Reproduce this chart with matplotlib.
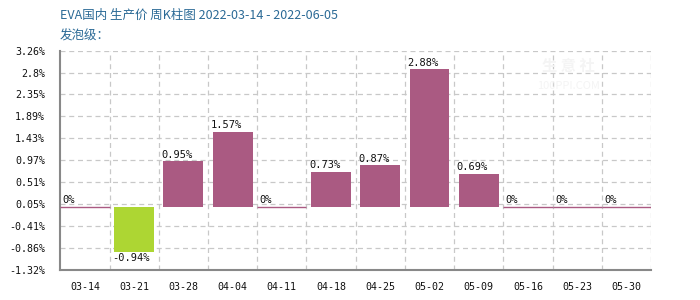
import matplotlib
matplotlib.use("Agg")
import matplotlib.pyplot as plt
import numpy as np

plt.rcParams['font.family'] = ['Noto Sans CJK SC', 'DejaVu Sans']

categories = ["03-14", "03-21", "03-28", "04-04", "04-11", "04-18",
              "04-25", "05-02", "05-09", "05-16", "05-23", "05-30"]
values = [0, -0.94, 0.95, 1.57, 0, 0.73, 0.87, 2.88, 0.69, 0, 0, 0]
ytick_vals = [3.26, 2.8, 2.35, 1.89, 1.43, 0.97, 0.51, 0.05, -0.41, -0.86, -1.32]
ytick_labels = ["3.26%", "2.8%", "2.35%", "1.89%", "1.43%", "0.97%", "0.51%",
                "0.05%", "-0.41%", "-0.86%", "-1.32%"]
title_line1 = "EVA国内 生产价 周K柱图 2022-03-14 - 2022-06-05"
title_line2 = "发泡级："

pos_color = "#AA5A82"
neg_color = "#ADD633"
grid_color = "#C8C8C8"

fig = plt.figure(figsize=(7, 3), dpi=100)
ax = fig.add_axes([0.0861, 0.1, 0.844, 0.731])

x = np.arange(len(categories))
colors = [neg_color if v < 0 else pos_color for v in values]
ax.bar(x, values, width=0.81, color=colors, zorder=3)
for i, v in enumerate(values):
    if v == 0:
        ax.hlines(0, i - 0.5, i + 0.5, color=pos_color, lw=1.0, zorder=3)

mono = "DejaVu Sans Mono"
for i, v in enumerate(values):
    label = "0%" if v == 0 else f"{v:.2f}%"
    if v >= 0:
        ax.annotate(label, (i - 0.45, v), xytext=(0, 1), textcoords="offset points",
                    ha="left", va="bottom", fontsize=7.5, family=mono, color="#111111", zorder=4)
    else:
        ax.annotate(label, (i - 0.45, v), xytext=(0, -1), textcoords="offset points",
                    ha="left", va="top", fontsize=7.5, family=mono, color="#111111", zorder=4)

ax.set_xlim(-0.5, len(categories) - 0.5)
ax.set_ylim(ytick_vals[-1], ytick_vals[0])
ax.set_yticks(ytick_vals)
ax.set_yticklabels(ytick_labels, family=mono, fontsize=7.2)
ax.set_xticks(x)
ax.set_xticklabels(categories, family=mono, fontsize=7.2)
ax.tick_params(axis='both', length=0, colors="#111111")
ax.tick_params(axis='y', pad=11)
ax.tick_params(axis='x', pad=9)

# grid
for yv in ytick_vals:
    ax.axhline(yv, color=grid_color, lw=0.9, ls=(0, (4, 3)), zorder=1)
for b in np.arange(-0.5, len(categories), 1.0)[1:]:
    ax.axvline(b, color=grid_color, lw=0.9, ls=(0, (4, 3)), zorder=1)

for s in ["top", "right"]:
    ax.spines[s].set_visible(False)
for s in ["left", "bottom"]:
    ax.spines[s].set_color("#888888")
    ax.spines[s].set_linewidth(1.5)

# watermark
ax.text(0.86, 0.93, "生 意 社", transform=ax.transAxes, fontsize=11, color="#F4F4F4",
        ha="center", va="center", fontweight="bold", zorder=2)
ax.text(0.86, 0.84, "100PPI.COM", transform=ax.transAxes, fontsize=8, color="#F4F4F4",
        ha="center", va="center", zorder=2)

fig.text(0.0857, 0.948, title_line1, fontsize=9, color="#2B6A96", ha="left", va="center")
fig.text(0.0857, 0.880, title_line2, fontsize=9, color="#2B6A96", ha="left", va="center")

fig.savefig("out.png", dpi=100)
